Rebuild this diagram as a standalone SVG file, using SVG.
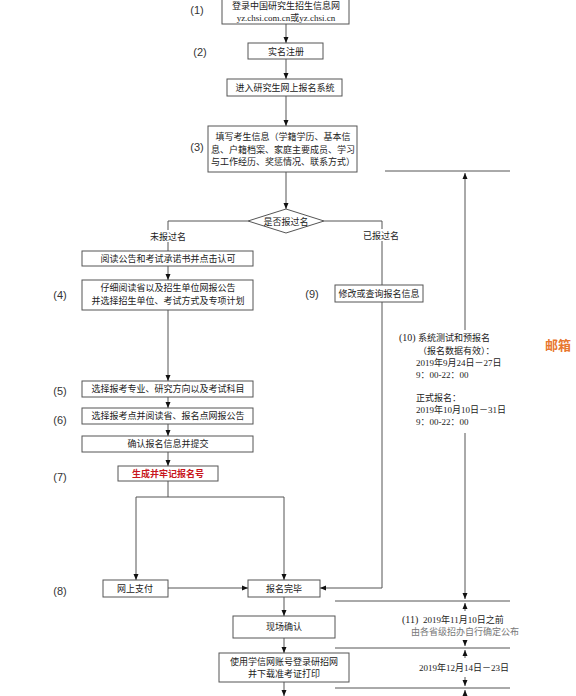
<svg xmlns="http://www.w3.org/2000/svg" width="576" height="696" viewBox="0 0 576 696">
<style>
.b{fill:#fff;stroke:#555;stroke-width:1}
.t{font-family:"Noto Sans CJK SC",sans-serif;font-size:9px;fill:#222;text-anchor:middle}
.s{font-family:"Liberation Serif","Noto Sans CJK SC",serif;font-size:9px;fill:#222}
.l{font-family:"Liberation Sans",sans-serif;font-size:11px;fill:#333;text-anchor:middle}
.r{font-family:"Noto Sans CJK SC",sans-serif;font-size:9px;font-weight:700;fill:#c8161d;text-anchor:middle}
.c{fill:none;stroke:#555;stroke-width:1}
.a{marker-end:url(#ah)}
</style>
<defs>
<marker id="ah" markerWidth="6" markerHeight="6" refX="6" refY="3" orient="auto" markerUnits="userSpaceOnUse"><path d="M0,0.5 L6,3 L0,5.5 z" fill="#111"/></marker>
</defs>
<rect width="576" height="696" fill="#fff"/>
<g id="connectors">
<path class="c a" d="M286,24 V43"/>
<path class="c a" d="M286,59 V79"/>
<path class="c a" d="M286,96 V126"/>
<path class="c a" d="M286,172 V209"/>
<path class="c" d="M248,221 H168 V251"/>
<path class="c" d="M324,221 H382 V588"/>
<path class="c a" d="M382,588 H320"/>
<path class="c a" d="M168,266 V280"/>
<path class="c a" d="M168,310 V381"/>
<path class="c a" d="M168,397 V408"/>
<path class="c a" d="M168,424 V436"/>
<path class="c a" d="M168,452 V466"/>
<path class="c" d="M168,481 V497 M136,497 H284"/>
<path class="c a" d="M136,497 V580"/>
<path class="c a" d="M284,497 V580"/>
<path class="c a" d="M168,588 H248"/>
<path class="c a" d="M284,597 V616"/>
<path class="c a" d="M284,638 V653"/>
<path class="c a" d="M284,682 V696"/>
<path class="c" d="M385,171 H510 M335,601 H510 M335,648 H510 M335,688 H510"/>
<path class="c a" d="M465,330 V173"/>
<path class="c a" d="M465,433 V599"/>
<path class="c a" d="M465,611 V603"/>
<path class="c a" d="M465,640 V646"/>
<path class="c a" d="M465,658 V650"/>
<path class="c a" d="M465,677 V686"/>
<path class="c a" d="M465,696 V690"/>
</g>
<g id="n1"><rect class="b" x="222" y="-6" width="127" height="30"/><text class="t" x="286" y="9">登录中国研究生招生信息网</text><text class="s" x="286" y="20.5" text-anchor="middle">yz.chsi.com.cn或yz.chsi.cn</text><text class="l" x="197" y="14">(1)</text></g>
<g id="n2"><rect class="b" x="248" y="43" width="75" height="16"/><text class="t" x="286" y="54.5">实名注册</text><text class="l" x="200" y="56">(2)</text></g>
<g id="n3"><rect class="b" x="227" y="79" width="115" height="17"/><text class="t" x="285" y="91">进入研究生网上报名系统</text></g>
<g id="n4"><rect class="b" x="208" y="126" width="149" height="46"/><text class="t" x="283" y="140">填写考生信息（学籍学历、基本信</text><text class="t" x="283" y="153">息、户籍档案、家庭主要成员、学习</text><text class="t" x="283" y="165">与工作经历、奖惩情况、联系方式）</text><text class="l" x="197" y="151">(3)</text></g>
<g id="n5"><path class="b" d="M248,221 L286,209 L324,221 L286,233 z"/><text class="t" x="286" y="224.5">是否报过名</text></g>
<g id="lab1"><rect x="150" y="230" width="37" height="12" fill="#fff"/><text class="t" x="168" y="240">未报过名</text></g>
<g id="lab2"><rect x="363" y="229" width="37" height="12" fill="#fff"/><text class="t" x="381" y="239">已报过名</text></g>
<g id="n6"><rect class="b" x="82" y="251" width="171" height="15"/><text class="t" x="168" y="261.5">阅读公告和考试承诺书并点击认可</text></g>
<g id="n7"><rect class="b" x="82" y="280" width="171" height="30"/><text class="t" x="168" y="291">仔细阅读省以及招生单位网报公告</text><text class="t" x="168" y="304">并选择招生单位、考试方式及专项计划</text><text class="l" x="60" y="299">(4)</text></g>
<g id="n8"><rect class="b" x="82" y="381" width="171" height="16"/><text class="t" x="168" y="392">选择报考专业、研究方向以及考试科目</text><text class="l" x="60" y="395">(5)</text></g>
<g id="n9"><rect class="b" x="82" y="408" width="171" height="16"/><text class="t" x="168" y="419">选择报考点并阅读省、报名点网报公告</text><text class="l" x="60" y="424">(6)</text></g>
<g id="n10"><rect class="b" x="82" y="436" width="171" height="16"/><text class="t" x="168" y="447">确认报名信息并提交</text></g>
<g id="n11"><rect class="b" x="118" y="466" width="100" height="15"/><text class="r" x="168" y="477">生成并牢记报名号</text><text class="l" x="60" y="481">(7)</text></g>
<g id="n12"><rect class="b" x="335" y="285" width="88" height="17"/><text class="t" x="379" y="297">修改或查询报名信息</text><text class="l" x="312" y="298">(9)</text></g>
<g id="n13"><rect class="b" x="103" y="580" width="65" height="17"/><text class="t" x="135" y="592">网上支付</text><text class="l" x="60" y="595">(8)</text></g>
<g id="n14"><rect class="b" x="248" y="580" width="72" height="17"/><text class="t" x="284" y="592">报名完毕</text></g>
<g id="n15"><rect class="b" x="233" y="616" width="102" height="22"/><text class="t" x="284" y="630">现场确认</text></g>
<g id="n16"><rect class="b" x="219" y="653" width="130" height="29"/><text class="t" x="284" y="665">使用学信网账号登录研招网</text><text class="t" x="284" y="677">并下载准考证打印</text></g>
<g id="t10">
<text class="s" x="399" y="341" style="font-size:10px">(10)</text>
<text class="s" x="418" y="341">系统测试和预报名</text>
<text class="s" x="418" y="354">（报名数据有效）：</text>
<text class="s" x="416" y="366">2019年9月24日－27日</text>
<text class="s" x="416" y="378">9：00-22：00</text>
<text class="s" x="416" y="401">正式报名：</text>
<text class="s" x="416" y="413">2019年10月10日－31日</text>
<text class="s" x="416" y="425">9：00-22：00</text>
</g>
<g id="t11">
<text class="s" x="402" y="623" style="font-size:10px">(11)</text>
<text class="s" x="423" y="623">2019年11月10日之前</text>
<text class="s" x="465" y="635" text-anchor="middle" style="fill:#777">由各省级招办自行确定公布</text>
</g>
<g id="t12"><text class="s" x="464" y="671" text-anchor="middle">2019年12月14日－23日</text></g>
<g id="mail"><text x="545" y="350" style="font-family:'Noto Sans CJK SC',sans-serif;font-size:13px;font-weight:bold;fill:#e8762d">邮箱</text></g>
</svg>
